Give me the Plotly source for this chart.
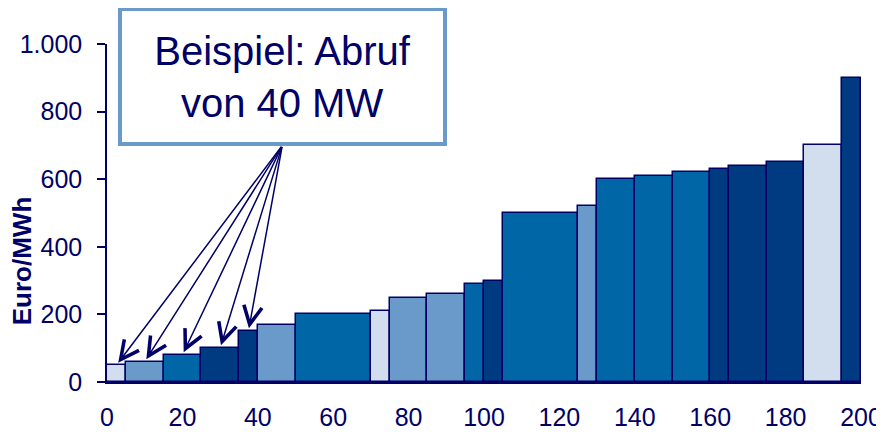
import plotly.graph_objects as go
import numpy as np

# Merit order: capacity blocks (MW) and prices (Euro/MWh)
widths = [5, 10, 10, 10, 5, 10, 20, 5, 10, 10, 5, 5, 20, 5, 10, 10, 10, 5, 10, 10, 10, 5]
prices = [50, 60, 80, 100, 150, 170, 200, 210, 250, 260, 290, 300, 500, 520, 600, 610, 620, 630, 640, 650, 700, 900]
shade = ["L", "M", "B", "D", "D", "M", "B", "L", "M", "M", "B", "D", "B", "M", "B", "B", "B", "D", "D", "D", "L", "D"]

x_ticks = [0, 20, 40, 60, 80, 100, 120, 140, 160, 180, 200]
y_ticks = [0, 200, 400, 600, 800, 1000]
y_tick_labels = ["0", "200", "400", "600", "800", "1.000"]
y_title = "Euro/MWh"

call_mw = 40
note_text = "Beispiel: Abruf<br>von 40 MW"

palette = {"L": "#D2DEEE", "M": "#6A9AC9", "B": "#0066A6", "D": "#003A80"}
navy = "#000066"

w = np.array(widths, dtype=float)
right = np.cumsum(w)
centers = right - w / 2

fig = go.Figure()
fig.add_trace(go.Bar(
    x=centers, y=prices, width=w,
    marker=dict(color=[palette[s] for s in shade], line=dict(color=navy, width=1.5)),
    showlegend=False, hoverinfo="x+y",
))

font = "Liberation Sans, Arial, sans-serif"

# Box
fig.add_annotation(
    x=46.5, y=905, xref="x", yref="y", text=note_text, showarrow=False,
    font=dict(family=font, size=40, color=navy),
    bgcolor="white", bordercolor="#6A9AC9", borderwidth=4, borderpad=0,
    width=321, height=131, align="center", valign="middle",
)

# Arrows to the called blocks
for c, p, r in zip(centers, prices, right):
    if r <= call_mw:
        fig.add_annotation(
            x=c, y=p, xref="x", yref="y", ax=46.5, ay=700, axref="x", ayref="y",
            text="", showarrow=True, arrowhead=5, arrowsize=2.4, arrowwidth=1.5,
            arrowcolor=navy, standoff=3,
        )

# Y-axis title
fig.add_annotation(
    x=-0.1124, y=0.358, xref="paper", yref="paper", text="<b>" + y_title + "</b>",
    showarrow=False, textangle=-90, xanchor="center", yanchor="middle",
    font=dict(family=font, size=26, color=navy),
)

fig.update_layout(
    width=876, height=423,
    margin=dict(l=99, r=23, t=36, b=49),
    paper_bgcolor="white", plot_bgcolor="white",
    bargap=0,
    font=dict(family=font, size=25, color=navy),
)
fig.update_xaxes(
    range=[0, 200], tickvals=x_ticks, showgrid=False, zeroline=False, automargin=False,
    showline=True, linecolor=navy, linewidth=1.5, ticks="",
    tickfont=dict(size=25, color=navy), ticklabelstandoff=12,
)
fig.update_yaxes(
    range=[0, 1000], tickvals=y_ticks, ticktext=y_tick_labels, showgrid=False, zeroline=False, automargin=False,
    showline=True, linecolor=navy, linewidth=1.5, ticks="outside", ticklen=8, tickcolor=navy, tickwidth=1.5,
    tickfont=dict(size=25, color=navy), ticklabelstandoff=10,
)

fig.write_html("out.html")
